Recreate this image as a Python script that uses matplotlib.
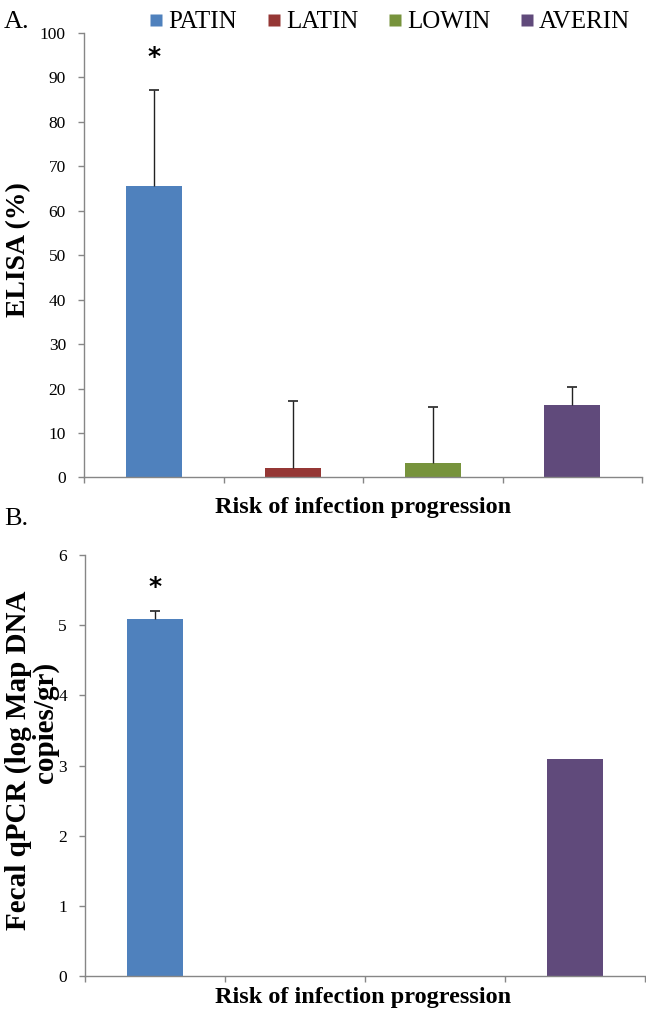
import numpy as np
import matplotlib
matplotlib.use("Agg")
import matplotlib.pyplot as plt
from matplotlib.lines import Line2D

# ── data ─────────────────────────────────────────────────────────────
GROUPS      = ["PATIN", "LATIN", "LOWIN", "AVERIN"]
COLORS      = ["#4F81BD", "#953735", "#77933C", "#604A7B"]

ELISA_MEAN  = [65.5, 2.1, 3.3, 16.2]
ELISA_ERR   = [21.7, 15.2, 12.5, 4.2]     # upper error only

QPCR_MEAN   = [5.09, np.nan, np.nan, 3.09]
QPCR_ERR    = [0.11, 0.0, 0.0, 0.0]

STAR_A      = 94.5     # y position of the * above PATIN
STAR_B      = 5.55

SERIF = ["Liberation Serif", "DejaVu Serif"]
AXIS_GREY = "#868686"

W, H = 646, 1016
plt.rcParams["font.family"] = SERIF


def px_axes(fig, left, top, right, bottom):
    """add axes from pixel box (origin top-left)"""
    return fig.add_axes([left / W, 1 - bottom / H,
                         (right - left) / W, (bottom - top) / H])


def style_axes(ax, ymax, ystep):
    x = np.arange(len(GROUPS)) + 0.5
    ax.set_xlim(0, len(GROUPS))
    ax.set_ylim(0, ymax)
    ax.set_yticks(np.arange(0, ymax + ystep / 2, ystep))
    ax.set_xticks(np.arange(0, len(GROUPS) + 1))
    ax.set_xticklabels([])
    for s in ("top", "right"):
        ax.spines[s].set_visible(False)
    for s in ("left", "bottom"):
        ax.spines[s].set_color(AXIS_GREY)
        ax.spines[s].set_linewidth(1.0)
    ax.tick_params(axis="both", direction="out", length=4, width=1.0,
                   color=AXIS_GREY, labelsize=12.5, pad=9)
    return x


def draw_bars(ax, x, means, errs):
    for xi, m, e, c in zip(x, means, errs, COLORS):
        if np.isnan(m):
            continue
        ax.bar(xi, m, width=0.4, color=c, edgecolor="none", zorder=2)
        if e > 0:
            # one-sided (upper) error bar with a cap on top only
            ax.vlines(xi, m, m + e, color="#222222", linewidth=1.0, zorder=3)
            ax.plot([xi], [m + e], marker="_", markersize=7, mew=1.2,
                    color="#222222", zorder=3)


fig = plt.figure(figsize=(W / 100, H / 100), dpi=100)

# ── panel A ──────────────────────────────────────────────────────────
axA = px_axes(fig, 84, 32.7, 642, 477.5)
x = style_axes(axA, 100, 10)
draw_bars(axA, x, ELISA_MEAN, ELISA_ERR)
axA.text(x[0], STAR_A, "*", ha="center", va="center", fontsize=18,
         fontweight="bold", family="DejaVu Sans")

# ── panel B ──────────────────────────────────────────────────────────
axB = px_axes(fig, 85, 555, 645, 976)
x = style_axes(axB, 6, 1)
draw_bars(axB, x, QPCR_MEAN, QPCR_ERR)
axB.text(x[0], STAR_B, "*", ha="center", va="center", fontsize=18,
         fontweight="bold", family="DejaVu Sans")

# ── labels ───────────────────────────────────────────────────────────
def ftext(px, py, s, **kw):
    fig.text(px / W, 1 - py / H, s, **kw)

ftext(4, 22, "A.", fontsize=19, ha="left", va="center")
ftext(4, 519, "B.", fontsize=19, ha="left", va="center")

ftext(363, 507, "Risk of infection progression", fontsize=17.5,
      fontweight="bold", ha="center", va="center")
ftext(363, 998, "Risk of infection progression", fontsize=17.5,
      fontweight="bold", ha="center", va="center")

ftext(19, 250, "ELISA (%)", fontsize=20, fontweight="bold",
      rotation=90, ha="center", va="center")
ftext(18, 760, "Fecal qPCR (log Map DNA", fontsize=21, fontweight="bold",
      rotation=90, ha="center", va="center")
ftext(45, 722, "copies/gr)", fontsize=21, fontweight="bold",
      rotation=90, ha="center", va="center")

# legend across the top
handles = [Line2D([], [], marker="s", linestyle="none", markersize=8,
                  markerfacecolor=c, markeredgecolor="none") for c in COLORS]
fig.legend(handles, GROUPS, loc="center", ncol=4, frameon=False,
           bbox_to_anchor=(390 / W, 1 - 22 / H), fontsize=18,
           handlelength=0.5, handletextpad=0.25, columnspacing=1.2)

fig.savefig("out.png", dpi=100)
